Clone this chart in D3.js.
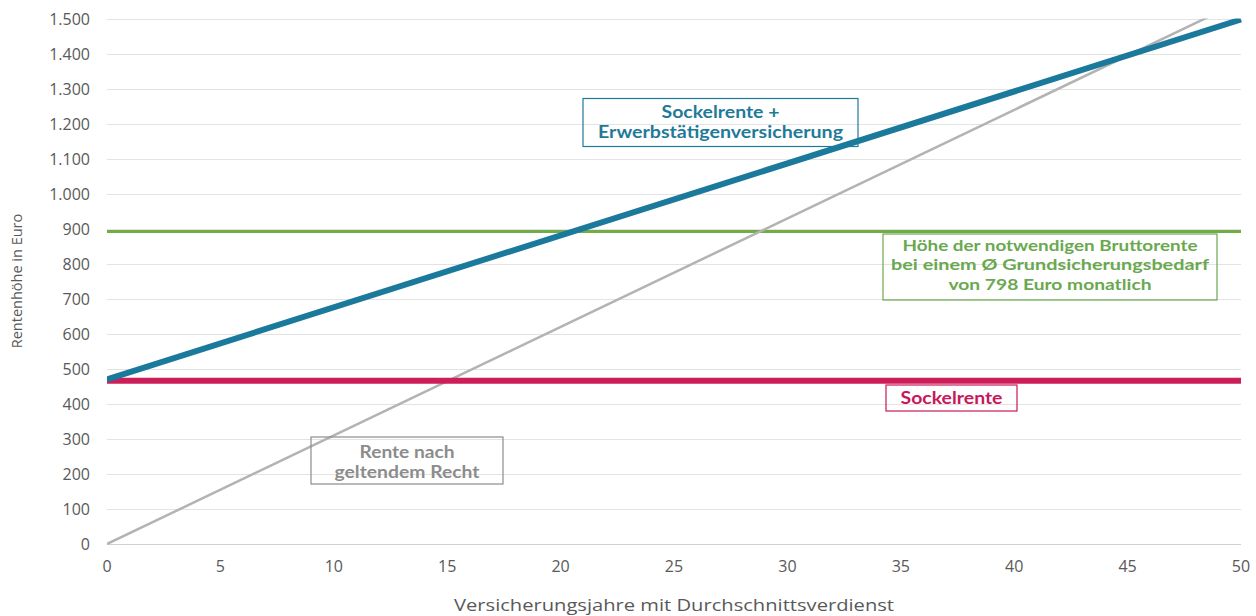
<!DOCTYPE html>
<html><head><meta charset="utf-8">
<script src="https://cdn.jsdelivr.net/npm/d3@7"></script>
<style>body{margin:0;background:#fff}svg{display:block}</style>
</head><body>
<svg id="c" width="1256" height="616"></svg>
<script>
// Data
const years = [0, 50];
const renteGeltendesRecht = [0, 1552];
const sockelrentePlusEV = [471, 1500];
const sockelrente = [467, 467];
const bruttorenteNotwendig = [894, 894];
const yTicks = d3.range(0, 1501, 100);
const xTicks = d3.range(0, 51, 5);
const xTitle = "Versicherungsjahre mit Durchschnittsverdienst";
const yTitle = "Rentenhöhe in Euro";
const labelBlue = ["Sockelrente +", "Erwerbstätigenversicherung"];
const labelGreen = ["Höhe der notwendigen Bruttorente", "bei einem Ø Grundsicherungsbedarf", "von 798 Euro monatlich"];
const labelRed = ["Sockelrente"];
const labelGray = ["Rente nach", "geltendem Recht"];

const svg = d3.select("#c");
const L = 107, R = 1241, T = 19.5, B = 544;
const x = d3.scaleLinear().domain([0, 50]).range([L, R]);
const y = d3.scaleLinear().domain([0, 1500]).range([B, T]);
const de = d3.formatLocale({decimal: ",", thousands: ".", grouping: [3], currency: ["", " €"]});
const fmt = de.format(",d");
const FONT = "'Open Sans', sans-serif";
const BFONT = "Lato, 'Open Sans', sans-serif";

// grid
svg.append("g").selectAll("line").data(yTicks).join("line")
  .attr("x1", L).attr("x2", R).attr("y1", d => y(d)).attr("y2", d => y(d))
  .attr("stroke", d => d === 0 ? "#d0d0d0" : "#e3e3e3").attr("stroke-width", 1)
  .attr("shape-rendering", "crispEdges");

// y tick labels
svg.append("g").selectAll("text").data(yTicks).join("text")
  .attr("x", 90).attr("y", d => y(d)).attr("dy", "0.36em")
  .attr("text-anchor", "end").attr("font-family", FONT).attr("font-size", 16)
  .attr("fill", "#595959").text(d => fmt(d));

// x tick labels
svg.append("g").selectAll("text").data(xTicks).join("text")
  .attr("x", d => x(d)).attr("y", 566).attr("dy", "0.36em")
  .attr("text-anchor", "middle").attr("font-family", FONT).attr("font-size", 16)
  .attr("fill", "#595959").text(d => d);

// titles
svg.append("text").attr("x", 674).attr("y", 605).attr("dy", "0.36em")
  .attr("text-anchor", "middle").attr("font-family", FONT).attr("font-size", 16)
  .attr("textLength", 440).attr("lengthAdjust", "spacingAndGlyphs")
  .attr("fill", "#595959").text(xTitle);
svg.append("text").attr("transform", "translate(17,281) rotate(-90)").attr("dy", "0.36em")
  .attr("text-anchor", "middle").attr("font-family", FONT).attr("font-size", 14.5)
  .attr("fill", "#595959").text(yTitle);

// clip
svg.append("clipPath").attr("id", "clip").append("rect")
  .attr("x", L).attr("y", T - 1).attr("width", R - L + 2).attr("height", B - T + 2);

const line = d3.line().x(d => x(d[0])).y(d => y(d[1]));
const g = svg.append("g").attr("clip-path", "url(#clip)");
const series = [
  {vals: bruttorenteNotwendig, color: "#70ad47", w: 3},
  {vals: renteGeltendesRecht, color: "#b3b3b3", w: 2.5},
  {vals: sockelrente, color: "#cc1f5a", w: 6},
  {vals: sockelrentePlusEV, color: "#1b7a9c", w: 6}
];
series.forEach(s => {
  g.append("path").datum(years.map((yr, i) => [yr, s.vals[i]]))
    .attr("d", line).attr("fill", "none").attr("stroke", s.color).attr("stroke-width", s.w);
});

// annotation boxes
function box(cx, top, w, h, lines, widths, color, lineH, firstY, fs) {
  svg.append("rect").attr("x", cx - w / 2).attr("y", top).attr("width", w).attr("height", h)
    .attr("fill", "none").attr("stroke", color).attr("stroke-width", 1.2);
  svg.append("g").selectAll("text").data(lines).join("text")
    .attr("x", cx).attr("y", (d, i) => firstY + i * lineH).attr("dy", "0.36em")
    .attr("text-anchor", "middle").attr("font-family", BFONT).attr("font-weight", "bold")
    .attr("font-size", fs).attr("fill", color)
    .attr("textLength", (d, i) => widths[i]).attr("lengthAdjust", "spacingAndGlyphs")
    .text(d => d);
}
box(720.5, 98.5, 275, 48, labelBlue, [118, 245], "#1f7a99", 20, 112.5, 16.5);
box(1050, 234, 334, 66, labelGreen, [295, 318, 203], "#6aa84f", 19.5, 245, 16);
box(951.5, 385, 131, 26, labelRed, [102], "#c8175a", 18, 398, 16.5);
box(407, 437, 192, 47, labelGray, [95, 145], "#8c8c8c", 20, 452, 16.5);
</script>
</body></html>
